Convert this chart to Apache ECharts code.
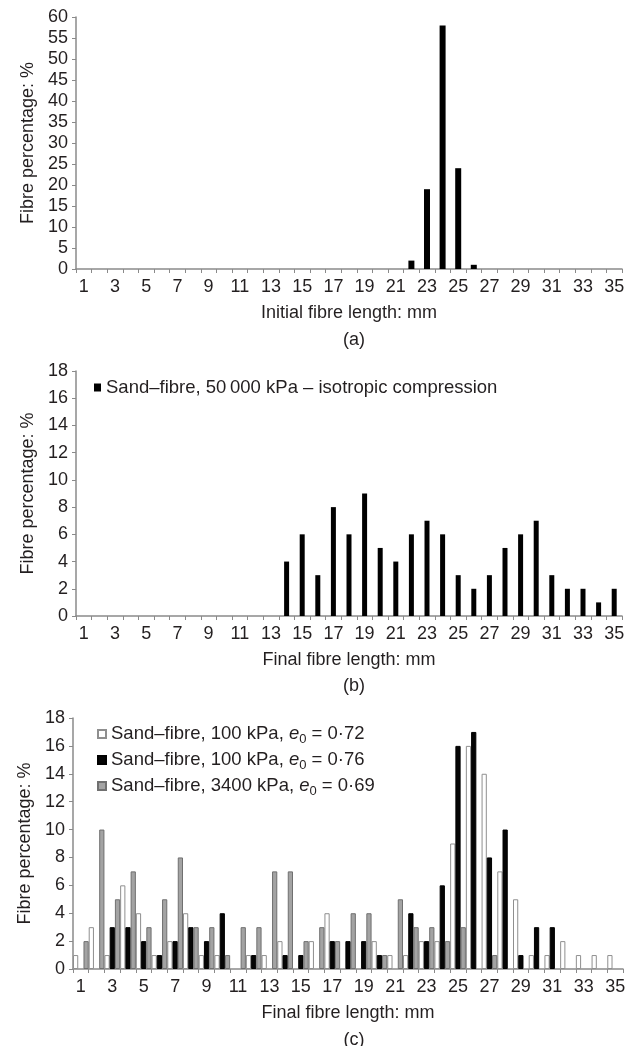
<!DOCTYPE html>
<html>
<head>
<meta charset="utf-8">
<script src="https://cdn.jsdelivr.net/npm/echarts@6/dist/echarts.min.js"></script>
<style>
html, body { margin: 0; padding: 0; background: #fff; }
#chart-0 { width: 632px; height: 1046px; }
</style>
</head>
<body>
<div id="chart-0"></div>
<script>
var lengths = ['1','2','3','4','5','6','7','8','9','10','11','12','13','14','15','16','17','18',
    '19','20','21','22','23','24','25','26','27','28','29','30','31','32','33','34','35'];

// (a) initial length distribution
var initialPct = [0,0,0,0,0,0,0,0,0,0, 0,0,0,0,0,0,0,0,0,0, 0,2,19,58,24,1,0,0,0,0, 0,0,0,0,0];

// (b) after 50000 kPa isotropic compression
var isoName = 'Sand\u2013fibre, 50\u2009000 kPa \u2013 isotropic compression';
var isoPct = [0,0,0,0,0,0,0,0,0,0, 0,0,0,4,6,3,8,6,9,5, 4,6,7,6,3,2,3,5,6,7, 3,2,2,1,2];

// (c) three shear tests
var shearNames = ['Sand\u2013fibre, 100 kPa, e0 = 0\u00b772', 'Sand\u2013fibre, 100 kPa, e0 = 0\u00b776', 'Sand\u2013fibre, 3400 kPa, e0 = 0\u00b769'];
var shearLabels = ['Sand\u2013fibre, 100 kPa, {i|e}{sub|0} = 0\u00b772', 'Sand\u2013fibre, 100 kPa, {i|e}{sub|0} = 0\u00b776', 'Sand\u2013fibre, 3400 kPa, {i|e}{sub|0} = 0\u00b769'];
var loose072 = [1,3,1,6,4,1,2,4,1,1, 0,1,1,2,0,2,4,0,0,2, 1,1,2,2,9,16,14,7,5,1, 1,2,1,1,1];
var loose076 = [0,0,3,3,2,1,2,3,2,4, 0,1,0,1,1,0,2,2,2,1, 0,4,2,6,16,17,8,10,1,3, 3,0,0,0,0];
var high069 = [2,10,5,7,3,5,8,3,3,1, 3,3,7,7,2,3,2,4,4,1, 5,3,3,2,3,0,1,0,0,0, 0,0,0,0,0];

var font = '"Liberation Sans", Arial, Helvetica, sans-serif';
var ink = '#231f20';
var axisGrey = '#8a8a8a';

function noZero(arr) {
    return arr.map(function(v) { return v === 0 ? null : v; });
}

function XAxis(idx, name) {
    return {
        type: 'category',
        gridIndex: idx,
        data: lengths,
        boundaryGap: true,
        name: name,
        nameLocation: 'middle',
        nameGap: 35,
        nameTextStyle: { color: ink, fontSize: 18, fontFamily: font },
        axisLine: { show: true, lineStyle: { color: axisGrey, width: 1.5 } },
        axisTick: { show: true, interval: 0, length: 4, lineStyle: { color: axisGrey } },
        axisLabel: { interval: 1, margin: 9, color: ink, fontSize: 18, fontFamily: font },
        splitLine: { show: false }
    }
}

function YAxis(idx, max, step) {
    return {
        type: 'value',
        gridIndex: idx,
        min: 0,
        max: max,
        interval: step,
        name: 'Fibre percentage: %',
        nameLocation: 'middle',
        nameGap: 39,
        nameTextStyle: { color: ink, fontSize: 18, fontFamily: font },
        axisLine: { show: true, lineStyle: { color: axisGrey, width: 1.5 } },
        axisTick: { show: true, length: 4, lineStyle: { color: axisGrey } },
        axisLabel: { margin: 8, color: ink, fontSize: 18, fontFamily: font },
        splitLine: { show: false }
    }
}

function SubTitle(text, top) {
    return {
        text: text,
        left: 349,
        top: top,
        textAlign: 'center',
        textStyle: { color: ink, fontSize: 18, fontWeight: 'normal', fontFamily: font }
    }
}

var chart = echarts.init(document.getElementById('chart-0'));
var option = {
    animation: false,
    backgroundColor: '#fff',
    title: [SubTitle('(a)', 326), SubTitle('(b)', 672), SubTitle('(c)', 1026)],
    grid: [
        { left: 76, right: 10, top: 17, height: 252 },
        { left: 76, right: 10, top: 371, height: 245 },
        { left: 73, right: 9, top: 718, height: 251 }
    ],
    xAxis: [
        XAxis(0, 'Initial fibre length: mm'),
        XAxis(1, 'Final fibre length: mm'),
        XAxis(2, 'Final fibre length: mm')
    ],
    yAxis: [YAxis(0, 60, 5), YAxis(1, 18, 2), YAxis(2, 18, 2)],
    legend: [
        {
            data: [isoName],
            left: 89,
            top: 373,
            icon: 'rect',
            itemWidth: 7,
            itemHeight: 8,
            textStyle: { color: ink, fontSize: 18.5, fontFamily: font }
        },
        {
            data: shearNames,
            orient: 'vertical',
            left: 92,
            top: 719,
            icon: 'rect',
            itemWidth: 8,
            itemHeight: 8,
            itemGap: 4,
            formatter: function(name) {
                return shearLabels[shearNames.indexOf(name)];
            },
            textStyle: {
                color: ink, fontSize: 18.5, fontFamily: font, lineHeight: 20,
                rich: {
                    i: { fontSize: 18.5, fontStyle: 'italic', fontFamily: font, color: ink },
                    sub: { fontSize: 13, fontFamily: font, color: ink, padding: [11, 0, 0, 0] }
                }
            }
        }
    ],
    series: [
        {
            name: 'initial',
            type: 'bar',
            xAxisIndex: 0,
            yAxisIndex: 0,
            barWidth: 6,
            itemStyle: { color: '#000' },
            data: initialPct
        },
        {
            name: isoName,
            type: 'bar',
            xAxisIndex: 1,
            yAxisIndex: 1,
            barWidth: 5,
            itemStyle: { color: '#000' },
            data: isoPct
        },
        {
            name: shearNames[0],
            type: 'bar',
            xAxisIndex: 2,
            yAxisIndex: 2,
            barGap: '0%',
            barCategoryGap: '0%',
            itemStyle: { color: '#fff', borderColor: '#8f8f8f', borderWidth: 1 },
            data: noZero(loose072)
        },
        {
            name: shearNames[1],
            type: 'bar',
            xAxisIndex: 2,
            yAxisIndex: 2,
            barGap: '0%',
            barCategoryGap: '0%',
            itemStyle: { color: '#050505', borderColor: '#000', borderWidth: 1 },
            data: noZero(loose076)
        },
        {
            name: shearNames[2],
            type: 'bar',
            xAxisIndex: 2,
            yAxisIndex: 2,
            barGap: '0%',
            barCategoryGap: '0%',
            itemStyle: { color: '#a3a3a3', borderColor: '#707070', borderWidth: 1 },
            data: noZero(high069)
        }
    ]
};
chart.setOption(option);
</script>
</body>
</html>
